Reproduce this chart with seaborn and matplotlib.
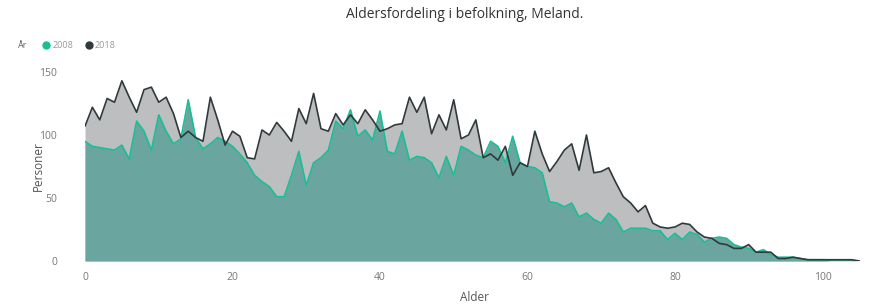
import numpy as np
import pandas as pd
import matplotlib
matplotlib.use("Agg")
import matplotlib.pyplot as plt
from matplotlib.lines import Line2D
import seaborn as sns

ages = list(range(0, 106))
years = ["2008", "2018"]
v2018 = [107, 122, 112, 129, 126, 143, 130, 118, 136, 138, 126, 130, 117, 98, 103, 98, 95, 130, 112, 92,
         103, 99, 82, 81, 104, 100, 110, 103, 95, 121, 109, 133, 105, 103, 117, 108, 116, 109, 120, 112,
         103, 105, 108, 109, 130, 118, 130, 101, 116, 104, 128, 97, 100, 112, 82, 85, 80, 91, 68, 78,
         75, 103, 85, 71, 79, 88, 93, 72, 100, 70, 71, 74, 62, 51, 46, 39, 44, 30, 27, 26,
         27, 30, 29, 23, 19, 18, 14, 13, 10, 10, 13, 7, 7, 7, 2, 2, 3, 2, 1, 1,
         1, 1, 1, 1, 1, 0]
v2008 = [95, 91, 90, 89, 88, 92, 81, 111, 103, 88, 116, 103, 93, 97, 128, 98, 89, 93, 98, 95,
         91, 85, 78, 68, 63, 59, 51, 51, 68, 87, 60, 78, 82, 88, 111, 105, 120, 99, 104, 96,
         119, 87, 85, 103, 80, 83, 82, 78, 66, 83, 68, 91, 88, 84, 82, 95, 91, 78, 99, 78,
         75, 74, 70, 47, 46, 43, 46, 35, 38, 33, 30, 38, 33, 23, 26, 26, 26, 24, 24, 17,
         22, 17, 23, 21, 15, 18, 19, 18, 13, 11, 10, 7, 9, 5, 3, 3, 3, 2, 1, 1,
         1, 0, 0, 0, 0, 0]
yticks = [0, 50, 100, 150]
xticks = [0, 20, 40, 60, 80, 100]

line_colors = {"2008": "#1BBE94", "2018": "#30393B"}
fill_colors = {"2008": "#6AA69F", "2018": "#BDBEC0"}

df = pd.DataFrame({
    "Alder": ages * 2,
    "Personer": v2008 + v2018,
    "År": ["2008"] * len(ages) + ["2018"] * len(ages),
})

sns.set_theme(style="white")
plt.rcParams["font.family"] = ["Open Sans", "DejaVu Sans"]

fig = plt.figure(figsize=(8.72, 3.06), dpi=100)
ax = fig.add_axes([85 / 872, 45 / 306, 778 / 872, 189 / 306])

ax.fill_between(ages, v2018, 0, color=fill_colors["2018"], linewidth=0, zorder=1)
ax.fill_between(ages, v2008, 0, color=fill_colors["2008"], linewidth=0, zorder=2)
sns.lineplot(data=df, x="Alder", y="Personer", hue="År", hue_order=years,
             palette=line_colors, linewidth=1.2, ax=ax, legend=False, zorder=3)

ax.set_xlim(0, 105.5)
ax.set_ylim(0, 150)
ax.set_xticks(xticks)
ax.set_yticks(yticks)
for s in ax.spines.values():
    s.set_visible(False)
ax.tick_params(axis="both", length=0, labelsize=7.5, colors="#777777")
ax.tick_params(axis="y", pad=20)
ax.tick_params(axis="x", pad=8)
ax.set_xlabel("Alder", fontsize=8.5, color="#555555", labelpad=6)
ax.set_ylabel("Personer", fontsize=8.5, color="#555555", labelpad=-4)
ax.grid(False)

fig.text(465 / 872, 1 - 14 / 306, "Aldersfordeling i befolkning, Meland.",
         ha="center", va="center", fontsize=10, color="#333333")

fig.text(18 / 872, 1 - 46 / 306, "År", ha="left", va="center", fontsize=6.5, color="#666666")
handles = [Line2D([], [], marker="o", linestyle="none", markersize=5,
                  markerfacecolor=line_colors[y], markeredgecolor=line_colors[y]) for y in years]
fig.legend(handles, years, loc="center left", bbox_to_anchor=(37 / 872, 1 - 46 / 306),
           ncol=2, frameon=False, fontsize=6.5, labelcolor="#999999",
           handletextpad=0.2, columnspacing=1.2, handlelength=1.0, borderpad=0)

fig.savefig("out.png", dpi=100)
